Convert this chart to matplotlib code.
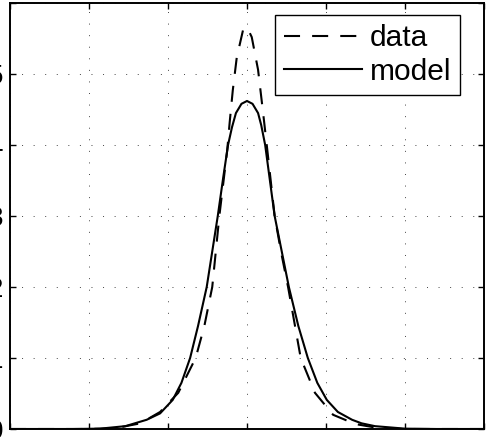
import matplotlib
matplotlib.use("Agg")
import matplotlib.pyplot as plt

# values (x in grid units, y in grid units)
model_x = [-3.0, -2.2, -1.86, -1.54, -1.27, -1.1, -0.94, -0.83, -0.72, -0.62, -0.51, -0.44,
           -0.37, -0.30, -0.24, -0.19, -0.14, -0.07, 0.0, 0.07, 0.14, 0.18, 0.23, 0.29,
           0.35, 0.44, 0.53, 0.65, 0.77, 0.89, 1.01, 1.15, 1.33, 1.45, 1.62, 2.0, 2.4, 3.0]
model_y = [0.0, 0.0, 0.005, 0.04, 0.13, 0.22, 0.41, 0.65, 1.0, 1.45, 2.0, 2.5,
           3.0, 3.55, 4.0, 4.25, 4.45, 4.58, 4.62, 4.58, 4.45, 4.28, 4.0, 3.5,
           3.0, 2.5, 2.0, 1.45, 1.0, 0.65, 0.41, 0.24, 0.13, 0.08, 0.04, 0.005, 0.0, 0.0]

data_x = [-3.0, -2.0, -1.67, -1.35, -1.10, -0.87, -0.65, -0.54, -0.44, -0.35, -0.25,
          -0.22, -0.18, -0.13, -0.05, 0.0, 0.06, 0.14, 0.20, 0.25, 0.35, 0.43, 0.52,
          0.68, 0.86, 1.09, 1.37, 1.68, 2.0, 3.0]
data_y = [0.0, 0.0, 0.01, 0.08, 0.24, 0.51, 1.0, 1.45, 2.0, 3.0, 3.93,
          4.31, 4.77, 5.23, 5.62, 5.66, 5.52, 5.06, 4.49, 4.0, 3.0, 2.5, 2.0,
          1.0, 0.51, 0.20, 0.07, 0.01, 0.0, 0.0]

x_ticks = [-3, -2, -1, 0, 1, 2, 3]
y_ticks = [0, 1, 2, 3, 4, 5, 6]
# only the lower labels peek in at the cropped left edge
y_labels = ['0', '1', '2', '3', '4', '5', '']

plt.rcParams['font.family'] = ['Liberation Sans', 'DejaVu Sans']

fig = plt.figure(figsize=(4.9, 4.37), dpi=100)
ax = fig.add_axes([10 / 490, 8 / 437, 474 / 490, 426 / 437])

ax.plot(data_x, data_y, color='black', lw=1.5, linestyle=(0, (7.7, 5.8)), label='data')
ax.plot(model_x, model_y, color='black', lw=1.5, label='model')

ax.set_xlim(-3, 3)
ax.set_ylim(0, 6)
ax.set_xticks(x_ticks)
ax.set_xticklabels([])
ax.set_yticks(y_ticks)
ax.set_yticklabels(y_labels)
ax.tick_params(direction='in', length=4.5, width=1, labelsize=20, pad=5,
               top=True, right=True)
ax.grid(True, color='#444444', linewidth=0.7, linestyle=(0, (1, 10.9)))
for s in ax.spines.values():
    s.set_linewidth(1.4)

leg = ax.legend(loc='upper right', bbox_to_anchor=((460 - 10) / 474, (429 - 15) / 426),
                borderaxespad=0, fontsize=21.5, handlelength=2.6, handletextpad=0.25,
                labelspacing=0.2, borderpad=0.3, fancybox=False, framealpha=1)
leg.get_frame().set_edgecolor('black')
leg.get_frame().set_linewidth(1.0)

fig.savefig('out.png', dpi=100)
